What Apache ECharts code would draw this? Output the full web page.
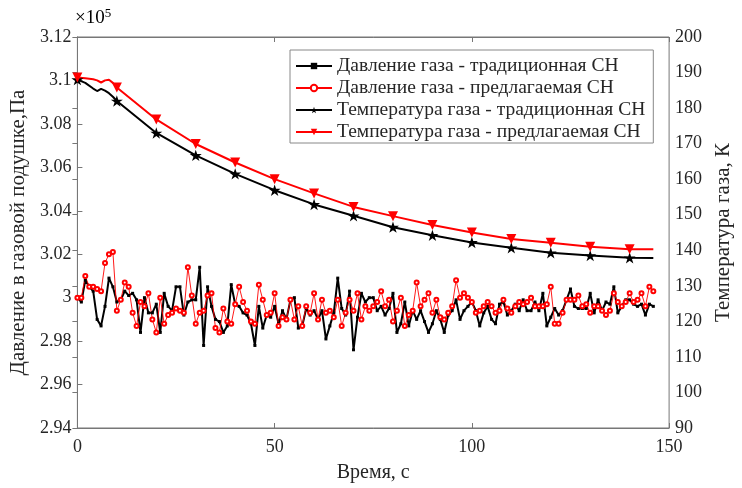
<!DOCTYPE html>
<html>
<head>
<meta charset="utf-8">
<script src="https://cdn.jsdelivr.net/npm/echarts@6/dist/echarts.min.js"></script>
<style>
  html, body { margin: 0; padding: 0; background: #fff; }
  #main { width: 742px; height: 488px; }
</style>
</head>
<body>
<div id="main"></div>
<script>
// давление, x10^5 Па, шаг 1 с
var pressStep = 1;
var pressTrad = [
  3.000, 2.998, 3.008, 3.005, 3.003, 2.990, 2.987, 2.996, 3.009, 3.005,
  2.998, 2.999, 3.003, 3.001, 3.002, 2.999, 2.984, 3.000, 2.993, 2.993,
  2.997, 2.984, 3.002, 2.996, 2.994, 3.005, 3.005, 2.992, 2.998, 2.999,
  2.999, 3.014, 2.978, 3.005, 2.996, 2.990, 2.989, 2.984, 2.987, 3.006,
  2.997, 2.996, 2.993, 2.992, 2.988, 2.978, 2.996, 2.986, 2.992, 2.991,
  2.996, 2.988, 2.994, 2.990, 2.999, 3.000, 2.986, 2.987, 2.995, 2.992,
  2.994, 2.990, 2.994, 2.981, 2.987, 2.993, 3.009, 2.995, 2.992, 3.003,
  2.976, 2.991, 3.002, 2.998, 3.000, 3.000, 2.994, 2.996, 2.992, 2.995,
  3.002, 2.984, 2.988, 2.998, 2.987, 2.994, 2.990, 2.994, 2.989, 2.984,
  2.988, 2.994, 2.990, 2.984, 2.992, 2.994, 2.999, 2.990, 2.994, 2.996,
  2.998, 2.994, 2.987, 2.993, 2.996, 2.990, 2.988, 2.997, 2.998, 2.992,
  2.994, 2.997, 2.994, 2.999, 2.994, 2.994, 2.998, 2.994, 3.002, 2.987,
  2.991, 2.995, 2.992, 2.994, 2.999, 3.004, 2.996, 2.995, 2.995, 2.995,
  3.002, 2.993, 2.999, 2.994, 2.998, 2.997, 3.005, 2.993, 2.996, 2.999,
  2.999, 2.997, 2.996, 2.997, 2.992, 2.997, 2.996
];
var pressProp = [
  3.000, 3.000, 3.010, 3.005, 3.005, 3.004, 3.003, 3.016, 3.020, 3.021,
  2.994, 2.999, 3.007, 3.005, 2.993, 2.987, 2.998, 2.996, 3.002, 2.990,
  2.984, 3.000, 2.988, 2.992, 2.993, 2.995, 2.994, 2.993, 3.014, 3.001,
  2.988, 2.993, 2.994, 3.001, 3.002, 2.986, 2.984, 2.995, 2.989, 2.988,
  2.997, 3.005, 2.998, 2.994, 2.989, 2.988, 3.006, 2.999, 2.992, 2.993,
  3.002, 2.987, 2.991, 2.990, 2.999, 2.990, 2.996, 2.987, 2.996, 2.993,
  3.002, 2.990, 2.999, 2.993, 2.994, 2.991, 2.999, 2.987, 2.993, 2.999,
  2.994, 3.002, 2.990, 2.996, 2.994, 2.996, 2.998, 3.003, 2.996, 2.999,
  2.989, 2.994, 3.000, 2.987, 2.992, 2.994, 3.007, 2.996, 2.999, 3.002,
  2.993, 2.999, 2.991, 2.990, 2.993, 2.996, 3.008, 3.000, 3.002, 3.000,
  2.998, 2.993, 2.994, 2.996, 2.998, 2.996, 2.993, 2.994, 2.999, 2.995,
  2.993, 2.996, 2.998, 2.997, 2.998, 3.000, 2.996, 2.996, 2.996, 2.997,
  3.005, 2.988, 2.988, 2.993, 2.999, 2.999, 2.999, 3.001, 2.996, 2.997,
  2.993, 2.996, 2.996, 2.994, 2.992, 2.994, 3.002, 2.998, 2.996, 2.998,
  3.002, 2.998, 2.999, 3.002, 2.996, 3.005, 3.003
];

// температура, К
var tempTime = [0, 2, 4, 5, 6, 7, 8, 9, 10, 20, 30, 40, 50, 60, 70, 80, 90, 100, 110, 120, 130, 140, 146];
var tempTrad = [188.0, 187.1, 185.5, 184.8, 185.4, 184.9, 184.2, 183.2, 182.0, 173.0, 166.7, 161.5, 156.9, 152.9, 149.7, 146.5, 144.2, 142.2, 140.7, 139.3, 138.5, 137.9, 137.8];
var tempProp = [188.6, 188.4, 188.1, 187.8, 187.2, 187.8, 188.0, 187.1, 185.8, 176.8, 169.9, 164.7, 160.0, 156.0, 152.2, 149.6, 147.1, 145.0, 143.2, 142.1, 141.0, 140.3, 140.3];
var markEvery = 10;

var seriesNames = [
  'Давление газа - традиционная СН',
  'Давление газа - предлагаемая СН',
  'Температура газа - традиционная СН',
  'Температура газа - предлагаемая СН'
];

var FONT = 'Liberation Serif';
var AXIS_COLOR = '#777';
var TEXT_COLOR = '#262626';
var starPath = 'path://M0,-1L0.224,-0.309L0.951,-0.309L0.363,0.118L0.588,0.809L0,0.382L-0.588,0.809L-0.363,0.118L-0.951,-0.309L-0.224,-0.309Z';

function pressData(arr) {
  return arr.map(function (p, i) { return [i * pressStep, p]; });
}
function tempData(arr) {
  return arr.map(function (v, i) {
    var t = tempTime[i];
    if (t % markEvery === 0) return [t, v];
    return { value: [t, v], symbol: 'none' };
  });
}

var chart = echarts.init(document.getElementById('main'));

var tickInside = { show: true, inside: true, length: 5, lineStyle: { color: AXIS_COLOR } };
var lineAxis = { show: true, lineStyle: { color: AXIS_COLOR, width: 1 } };
var labelStyle = { fontFamily: FONT, fontSize: 18, color: TEXT_COLOR };
var nameStyle = { fontFamily: FONT, fontSize: 21, color: TEXT_COLOR };

var option = {
  animation: false,
  backgroundColor: '#fff',
  grid: { left: 72, right: 61, top: 37, bottom: 52, show: true, borderColor: AXIS_COLOR, borderWidth: 1 },
  graphic: [{
    type: 'text',
    left: 75,
    top: 7,
    style: {
      text: '{a|×10}{b|5}',
      rich: {
        a: { fontFamily: FONT, fontSize: 19, color: TEXT_COLOR },
        b: { fontFamily: FONT, fontSize: 13, color: TEXT_COLOR, verticalAlign: 'top', padding: [0, 0, 9, 0] }
      }
    }
  }],
  legend: {
    orient: 'vertical',
    left: 290,
    top: 50,
    itemWidth: 36,
    itemHeight: 8,
    itemGap: 2,
    padding: [6, 8, 1, 5],
    backgroundColor: '#fff',
    borderColor: '#888',
    borderWidth: 1,
    textStyle: { fontFamily: FONT, fontSize: 19.5, color: TEXT_COLOR },
    data: seriesNames
  },
  xAxis: [{
    type: 'value', min: 0, max: 150, interval: 50, position: 'bottom',
    axisLine: lineAxis, axisTick: tickInside, splitLine: { show: false },
    axisLabel: Object.assign({ margin: 10 }, labelStyle),
    name: 'Время, с', nameLocation: 'middle', nameGap: 35,
    nameTextStyle: { fontFamily: FONT, fontSize: 20, color: TEXT_COLOR }
  }, {
    type: 'value', min: 0, max: 150, interval: 50, position: 'top',
    axisLine: lineAxis, axisTick: tickInside, splitLine: { show: false },
    axisLabel: { show: false }
  }],
  yAxis: [{
    type: 'value', min: 2.94, max: 3.12, interval: 0.02, position: 'left',
    axisLine: lineAxis, axisTick: tickInside, splitLine: { show: false },
    axisLabel: Object.assign({
      margin: 6,
      formatter: function (v) { return String(parseFloat(v.toFixed(2))); }
    }, labelStyle),
    name: 'Давление в газовой подушке,Па', nameLocation: 'middle', nameGap: 44, nameRotate: 90,
    nameTextStyle: nameStyle
  }, {
    type: 'value', min: 90, max: 200, interval: 10, position: 'right',
    axisLine: lineAxis, axisTick: tickInside, splitLine: { show: false },
    axisLabel: Object.assign({ margin: 6 }, labelStyle),
    name: 'Температура газа, К', nameLocation: 'middle', nameGap: 36, nameRotate: 90,
    nameTextStyle: nameStyle
  }],
  series: [{
    name: seriesNames[0], type: 'line', yAxisIndex: 0,
    data: pressData(pressTrad),
    symbol: 'rect', symbolSize: 3, showAllSymbol: true,
    lineStyle: { color: '#000', width: 2 },
    itemStyle: { color: '#000' }
  }, {
    name: seriesNames[1], type: 'line', yAxisIndex: 0,
    data: pressData(pressProp),
    symbol: 'emptyCircle', symbolSize: 4, showAllSymbol: true,
    lineStyle: { color: '#ff0000', width: 0.9 },
    itemStyle: { color: '#ff0000', borderColor: '#ff0000', borderWidth: 0.9 }
  }, {
    name: seriesNames[2], type: 'line', yAxisIndex: 1,
    data: tempData(tempTrad),
    symbol: starPath, symbolSize: 12, symbolKeepAspect: true, showAllSymbol: true,
    lineStyle: { color: '#000', width: 2 },
    itemStyle: { color: '#000' }
  }, {
    name: seriesNames[3], type: 'line', yAxisIndex: 1,
    data: tempData(tempProp),
    symbol: 'triangle', symbolRotate: 180, symbolSize: 10, showAllSymbol: true,
    lineStyle: { color: '#ff0000', width: 2 },
    itemStyle: { color: '#ff0000' }
  }]
};

chart.setOption(option);
</script>
</body>
</html>
